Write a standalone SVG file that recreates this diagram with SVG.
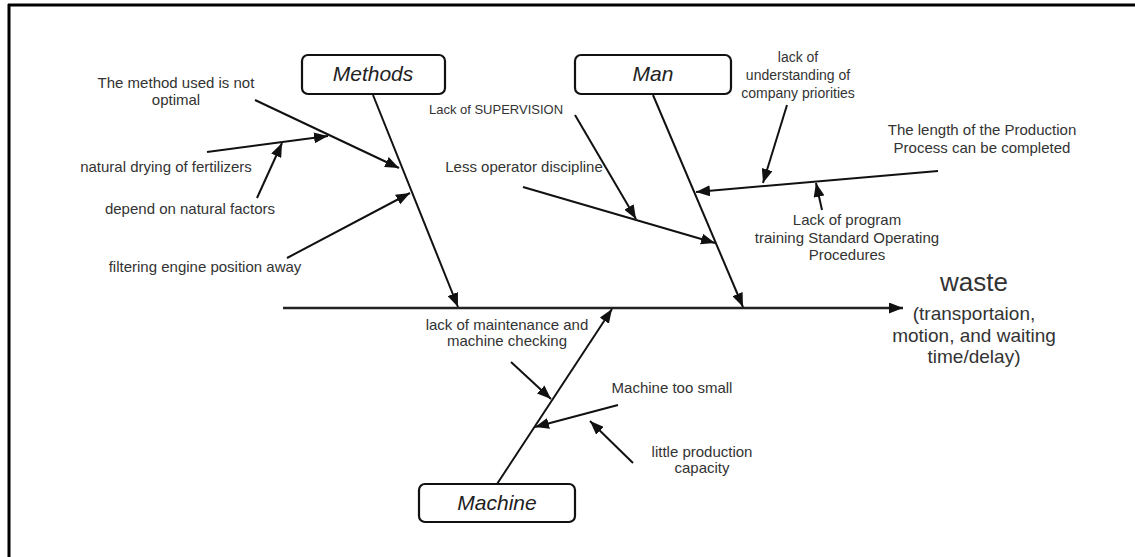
<svg xmlns="http://www.w3.org/2000/svg" width="1135" height="557" viewBox="0 0 1135 557">
  <defs>
    <marker id="ah" markerUnits="userSpaceOnUse" markerWidth="14" markerHeight="11" refX="14" refY="5.5" orient="auto">
      <path d="M0,0 L14,5.5 L0,11 z" fill="#111"/>
    </marker>
    <style>
      .box { fill: #fff; stroke: #111; stroke-width: 2.2; }
      .cat { font-family: "Liberation Sans", Arial, sans-serif; font-style: italic; font-size: 21px; fill: #222; text-anchor: middle; }
      .lbl { font-family: "Liberation Sans", Arial, sans-serif; font-size: 15px; fill: #333; text-anchor: middle; }
      .sm { font-size: 13px; }
      .md { font-size: 14px; }
      .bone { stroke: #111; stroke-width: 2; fill: none; marker-end: url(#ah); }
      .spine { stroke: #222; stroke-width: 2.6; fill: none; marker-end: url(#ah); }
    </style>
  </defs>
  <rect width="1135" height="557" fill="#fff"/>
  <g id="frame">
    <line x1="8" y1="5" x2="1135" y2="5" stroke="#000" stroke-width="3"/>
    <line x1="9" y1="4" x2="9" y2="557" stroke="#000" stroke-width="3"/>
  </g>
  <g id="connectors">
    <line class="spine" x1="283" y1="308" x2="903" y2="308"/>
    <line class="bone" x1="373" y1="95" x2="458" y2="307"/>
    <line class="bone" x1="653" y1="95" x2="743" y2="307"/>
    <line class="bone" x1="497" y1="484" x2="612" y2="309"/>
    <line class="bone" x1="255" y1="100" x2="399" y2="168"/>
    <line class="bone" x1="207" y1="152" x2="328" y2="136"/>
    <line class="bone" x1="257" y1="198" x2="282" y2="143"/>
    <line class="bone" x1="287" y1="258" x2="410" y2="193"/>
    <line class="bone" x1="575" y1="115" x2="636" y2="219"/>
    <line class="bone" x1="523" y1="187" x2="715" y2="243"/>
    <line class="bone" x1="787" y1="105" x2="763" y2="183"/>
    <line class="bone" x1="938" y1="171" x2="696" y2="192"/>
    <line class="bone" x1="822" y1="210" x2="816" y2="183"/>
    <line class="bone" x1="511" y1="362" x2="551" y2="399"/>
    <line class="bone" x1="618" y1="405" x2="535" y2="427"/>
    <line class="bone" x1="633" y1="463" x2="590" y2="421"/>
  </g>
  <g id="methods">
    <rect class="box" x="302" y="55" width="143" height="39" rx="6"/>
    <text class="cat" x="373" y="81">Methods</text>
  </g>
  <g id="man">
    <rect class="box" x="575" y="55" width="156" height="39" rx="6"/>
    <text class="cat" x="653" y="81">Man</text>
  </g>
  <g id="machine">
    <rect class="box" x="419" y="484" width="156" height="38" rx="6"/>
    <text class="cat" x="497" y="510">Machine</text>
  </g>
  <g id="effect">
    <text class="lbl" x="974" y="291" style="font-size:26px">waste</text>
    <text class="lbl" x="974" y="320" style="font-size:19px">(transportaion,</text>
    <text class="lbl" x="974" y="342" style="font-size:19px">motion, and waiting</text>
    <text class="lbl" x="974" y="363" style="font-size:19px">time/delay)</text>
  </g>
  <g id="method-causes">
    <text class="lbl" x="176" y="88">The method used is not</text>
    <text class="lbl" x="176" y="105">optimal</text>
    <text class="lbl" x="166" y="172">natural drying of fertilizers</text>
    <text class="lbl" x="190" y="214">depend on natural factors</text>
    <text class="lbl" x="205" y="272">filtering engine position away</text>
  </g>
  <g id="man-causes">
    <text class="lbl sm" x="496" y="114">Lack of SUPERVISION</text>
    <text class="lbl" x="524" y="172">Less operator discipline</text>
    <text class="lbl md" x="798" y="62">lack of</text>
    <text class="lbl md" x="798" y="80">understanding of</text>
    <text class="lbl md" x="798" y="98">company priorities</text>
    <text class="lbl" x="982" y="135">The length of the Production</text>
    <text class="lbl" x="982" y="153">Process can be completed</text>
    <text class="lbl" x="847" y="225">Lack of program</text>
    <text class="lbl" x="847" y="243">training Standard Operating</text>
    <text class="lbl" x="847" y="260">Procedures</text>
  </g>
  <g id="machine-causes">
    <text class="lbl" x="507" y="330">lack of maintenance and</text>
    <text class="lbl" x="507" y="346">machine checking</text>
    <text class="lbl" x="672" y="393">Machine too small</text>
    <text class="lbl" x="702" y="457">little production</text>
    <text class="lbl" x="702" y="473">capacity</text>
  </g>
</svg>
